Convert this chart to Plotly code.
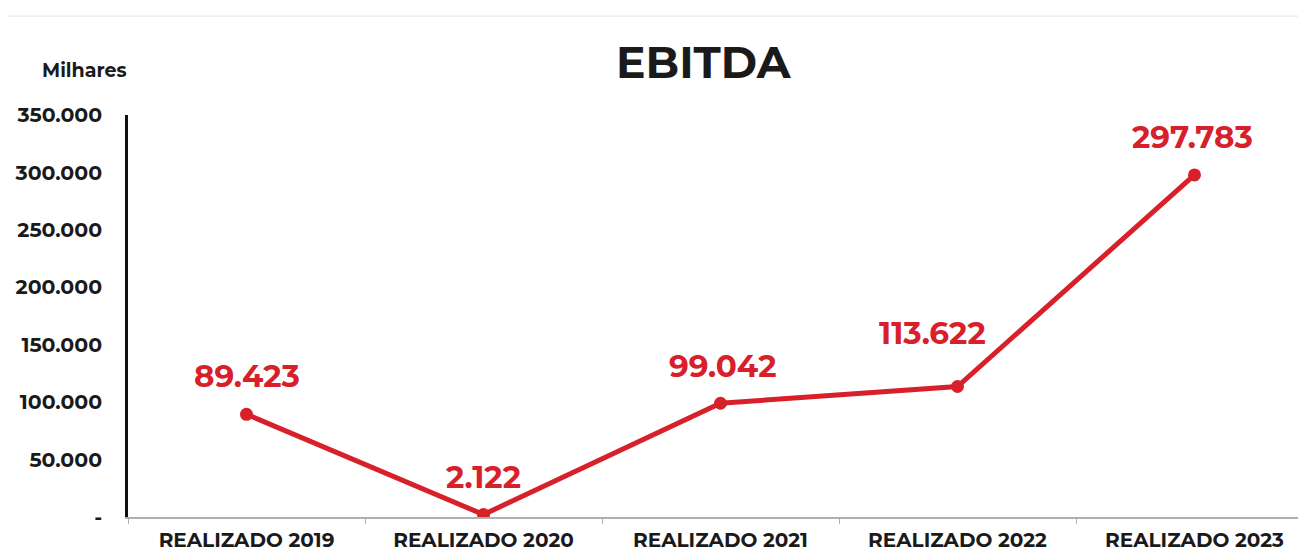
import plotly.graph_objects as go

categories = ["REALIZADO 2019", "REALIZADO 2020", "REALIZADO 2021", "REALIZADO 2022", "REALIZADO 2023"]
ebitda = [89423, 2122, 99042, 113622, 297783]
value_labels = ["89.423", "2.122", "99.042", "113.622", "297.783"]
ytick_vals = [0, 50000, 100000, 150000, 200000, 250000, 300000, 350000]
ytick_text = ["-", "50.000", "100.000", "150.000", "200.000", "250.000", "300.000", "350.000"]

# label placement (styling)
label_xshift = [0, 0, 2, -25, -2]
label_yshift = [38, 38, 37, 54, 38]

RED = "#d8202b"
FONT = "Montserrat, 'Open Sans', Arial, sans-serif"
DARK = "#1a1a1a"

fig = go.Figure()
fig.add_trace(go.Scatter(
    x=categories, y=ebitda, mode="lines+markers",
    line=dict(color=RED, width=5),
    marker=dict(color=RED, size=13),
    hoverinfo="skip", showlegend=False,
))

for c, v, t, xs, ys in zip(categories, ebitda, value_labels, label_xshift, label_yshift):
    fig.add_annotation(x=c, y=v, text=t, showarrow=False, yshift=ys, xshift=xs,
                       font=dict(family=FONT, size=31, color=RED, weight="bold"))

fig.add_annotation(xref="paper", yref="paper", x=0.5, y=1, yanchor="middle", text="EBITDA",
                   showarrow=False, xshift=-17, yshift=53,
                   font=dict(family=FONT, size=44, color=DARK, weight="bold"))
fig.add_annotation(xref="paper", yref="paper", x=0, y=1, text="Milhares", showarrow=False,
                   xanchor="left", yanchor="middle", xshift=-88, yshift=45,
                   font=dict(family=FONT, size=19, color=DARK, weight="bold"))

fig.update_layout(
    width=1306, height=555,
    margin=dict(l=120, r=1, t=107, b=46),
    paper_bgcolor="white", plot_bgcolor="white",
    font=dict(family=FONT, color=DARK),
    xaxis=dict(range=[-0.5, 4.5], showline=True, linecolor="#b0b0b0", linewidth=1.5, showgrid=False,
               ticks="outside", tickson="boundaries", ticklen=5, tickcolor="#b0b0b0",
               ticklabelstandoff=4,
               tickfont=dict(family=FONT, size=20, color=DARK, weight="bold"),
               zeroline=False),
    yaxis=dict(range=[0, 350000], tickvals=ytick_vals, ticktext=ytick_text,
               showline=True, linecolor="#111111", linewidth=2.5, showgrid=False,
               zeroline=False, ticks="", ticklabelstandoff=19,
               tickfont=dict(family=FONT, size=20.5, color=DARK, weight="bold")),
)

# faint scanned frame lines
fig.add_shape(type="line", xref="paper", yref="paper", x0=-0.102, x1=-0.102, y0=-0.2, y1=1.246,
              line=dict(color="#d4d4d4", width=1))
fig.add_shape(type="line", xref="paper", yref="paper", x0=-0.102, x1=1.0, y0=1.246, y1=1.246,
              line=dict(color="#e2e2e2", width=1))

fig.write_html("out.html")
